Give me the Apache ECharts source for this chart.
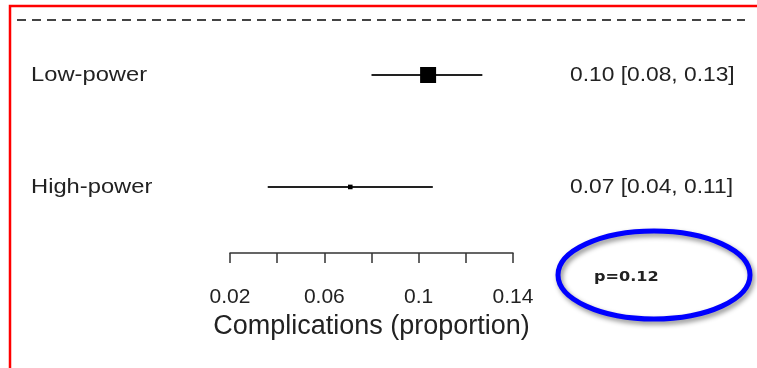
<!DOCTYPE html>
<html><head><meta charset="utf-8">
<script src="https://cdn.jsdelivr.net/npm/echarts@6/dist/echarts.min.js"></script>
<style>html,body{margin:0;padding:0;background:#fff}#c{width:757px;height:368px}</style>
</head><body><div id="c"></div>
<script>
// Data
const groups = ["Low-power", "High-power"];
const estimates = [0.104, 0.071];
const lowerCI = [0.080, 0.036];
const upperCI = [0.127, 0.106];
const weights = [1.0, 0.05];
const tickValues = [0.02, 0.04, 0.06, 0.08, 0.10, 0.12, 0.14];
const tickLabels = ["0.02", "0.06", "0.1", "0.14"];
const pText = "p=0.12";

const seriesData = groups.map((g, i) => [estimates[i], lowerCI[i], upperCI[i], i + 1, weights[i]]);

const chart = echarts.init(document.getElementById('c'), null, {renderer: 'canvas'});
const FONT = 'Liberation Sans';

chart.setOption({
  animation: false,
  backgroundColor: '#ffffff',
  grid: {left: 230, right: 244, top: 19, bottom: 115},
  xAxis: {
    type: 'value', min: 0.02, max: 0.14, interval: 0.02,
    axisLine: {show: true, lineStyle: {color: '#333', width: 1.5}},
    axisTick: {show: true, inside: false, length: 10, lineStyle: {color: '#333', width: 1.5}},
    splitLine: {show: false},
    axisLabel: {
      margin: 34, color: '#222', fontFamily: FONT, fontSize: 21,
      formatter: function (v) {
        const s = tickLabels.find(t => Math.abs(parseFloat(t) - v) < 1e-9);
        return s ? s : '';
      }
    },
    name: 'Complications (proportion)', nameLocation: 'middle', nameGap: 56,
    nameTextStyle: {color: '#222', fontFamily: FONT, fontSize: 27}
  },
  yAxis: {type: 'value', inverse: true, min: 0.5, max: 2.59, show: false},
  graphic: [
    {type: 'polyline', shape: {points: [[10, 370], [10, 6], [760, 6]]}, style: {stroke: '#ff0000', lineWidth: 2.5, fill: null}},
    {type: 'line', shape: {x1: 17, y1: 20, x2: 745, y2: 20}, style: {stroke: '#444', lineWidth: 2.2, lineDash: [9, 6]}},
    {type: 'ellipse', shape: {cx: 654, cy: 275, rx: 96, ry: 44},
      style: {stroke: '#0000ff', lineWidth: 5, fill: null, shadowBlur: 5, shadowColor: 'rgba(0,0,0,0.45)', shadowOffsetX: 2, shadowOffsetY: 3}},
    {type: 'text', x: 594, y: 277, scaleX: 1.15, style: {text: pText, fontFamily: 'DejaVu Sans', fontWeight: 'bold', fontSize: 14, fill: '#222', verticalAlign: 'middle', align: 'left'}}
  ],
  series: [{
    type: 'custom',
    data: seriesData,
    encode: {x: [0, 1, 2], y: 3},
    renderItem: function (params, api) {
      const est = api.value(0), lo = api.value(1), hi = api.value(2), row = api.value(3), w = api.value(4);
      const pLo = api.coord([lo, row]);
      const pHi = api.coord([hi, row]);
      const pE = api.coord([est, row]);
      const sz = 4 + 12 * w;
      const idx = params.dataIndex;
      const label = (est.toFixed(2)) + ' [' + lo.toFixed(2) + ', ' + hi.toFixed(2) + ']';
      return {
        type: 'group',
        children: [
          {type: 'line', shape: {x1: pLo[0], y1: pLo[1], x2: pHi[0], y2: pHi[1]}, style: {stroke: '#222', lineWidth: 2}},
          {type: 'rect', shape: {x: pE[0] - sz / 2, y: pE[1] - sz / 2, width: sz, height: sz}, style: {fill: '#000'}},
          {type: 'text', x: 31, y: pE[1], scaleX: 1.13, style: {text: groups[idx], fontFamily: FONT, fontSize: 21, fill: '#222', verticalAlign: 'middle', align: 'left'}},
          {type: 'text', x: 570, y: pE[1], scaleX: 1.085, style: {text: label, fontFamily: FONT, fontSize: 21, fill: '#222', verticalAlign: 'middle', align: 'left'}}
        ]
      };
    }
  }]
});
</script>
</body></html>
